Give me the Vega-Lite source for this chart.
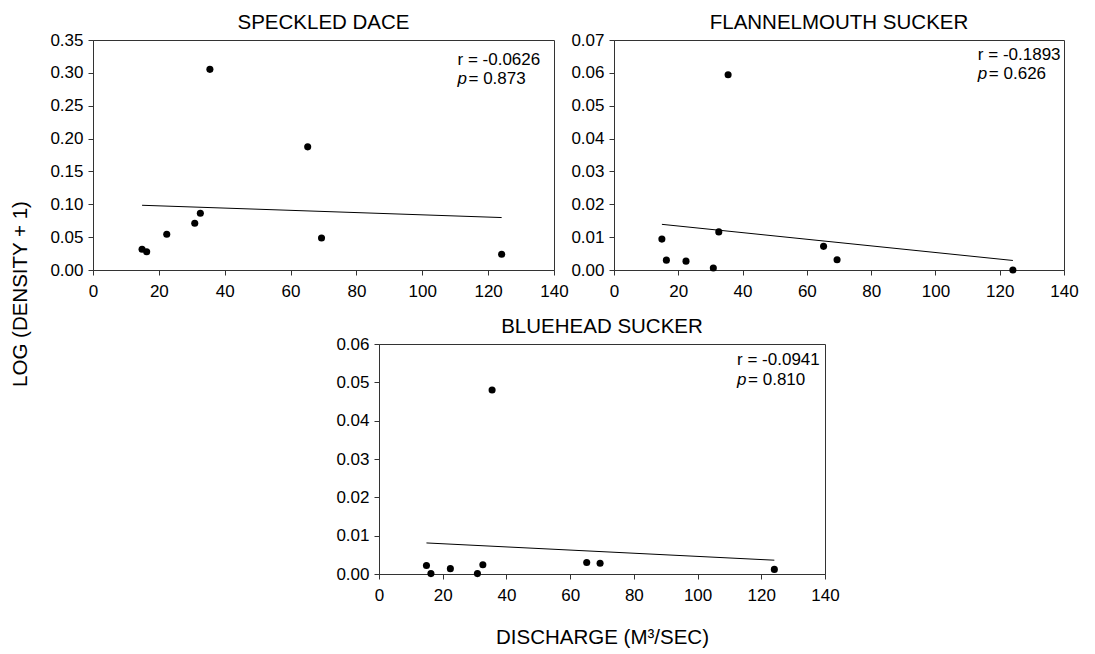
{
  "$schema": "https://vega.github.io/schema/vega-lite/v6.json",
  "padding": {"left": 10, "top": 12, "right": 5, "bottom": 5},
  "background": "white",
  "title": {"text": "LOG (DENSITY + 1)", "orient": "left", "anchor": "middle", "fontSize": 20.5, "fontWeight": "normal", "color": "#000000", "offset": 18, "dx": 36},
  "config": {
    "font": "Liberation Sans",
    "view": {"stroke": "#333333", "strokeWidth": 1},
    "axis": {
      "grid": false,
      "domainColor": "#333333",
      "tickColor": "#333333",
      "tickSize": 5,
      "labelFontSize": 17,
      "labelColor": "#000000",
      "labelPadding": 5,
      "labelOverlap": false,
      "labelFlush": false,
      "titleFontSize": 20.5,
      "titleFontWeight": "normal",
      "titleColor": "#000000"
    },
    "axisX": {"labelPadding": 8},
    "title": {"fontSize": 20.5, "fontWeight": "normal", "color": "#000000", "baseline": "alphabetic", "offset": -2},
    "text": {"font": "Liberation Sans", "fontSize": 17, "color": "#000000", "align": "left", "baseline": "middle"}
  },
  "datasets": {
    "dace": [
      {"q": 14.9, "v": 0.0315}, {"q": 16.3, "v": 0.0279}, {"q": 22.4, "v": 0.0544},
      {"q": 30.9, "v": 0.0711}, {"q": 32.6, "v": 0.0864}, {"q": 35.5, "v": 0.3053},
      {"q": 65.2, "v": 0.1874}, {"q": 69.4, "v": 0.0488}, {"q": 124.1, "v": 0.0239}
    ],
    "daceFit": [{"q": 14.9, "v": 0.0985}, {"q": 124.1, "v": 0.0798}],
    "daceR": [{"q": 110.7, "v": 0.3195, "t": "r = -0.0626"}],
    "daceP": [{"q": 110.7, "v": 0.2906, "p": "p", "t": "= 0.873"}],
    "flannel": [
      {"q": 14.9, "v": 0.0094}, {"q": 16.3, "v": 0.0030}, {"q": 22.4, "v": 0.0027},
      {"q": 30.9, "v": 0.0006}, {"q": 32.6, "v": 0.0116}, {"q": 35.5, "v": 0.0594},
      {"q": 65.2, "v": 0.0072}, {"q": 69.4, "v": 0.0031}, {"q": 124.1, "v": 0.0000}
    ],
    "flannelFit": [{"q": 14.9, "v": 0.0139}, {"q": 124.1, "v": 0.0029}],
    "flannelR": [{"q": 113.2, "v": 0.0654, "t": "r = -0.1893"}],
    "flannelP": [{"q": 113.2, "v": 0.0596, "p": "p", "t": "= 0.626"}],
    "bluehead": [
      {"q": 14.9, "v": 0.0022}, {"q": 16.3, "v": 0.0001}, {"q": 22.4, "v": 0.0014},
      {"q": 30.9, "v": 0.0001}, {"q": 32.6, "v": 0.0024}, {"q": 35.5, "v": 0.0480},
      {"q": 65.2, "v": 0.0030}, {"q": 69.4, "v": 0.0028}, {"q": 124.1, "v": 0.0012}
    ],
    "blueheadFit": [{"q": 14.9, "v": 0.0081}, {"q": 124.1, "v": 0.0036}],
    "blueheadR": [{"q": 112.4, "v": 0.0557, "t": "r = -0.0941"}],
    "blueheadP": [{"q": 112.4, "v": 0.0506, "p": "p", "t": "= 0.810"}],
    "empty": []
  },
  "spacing": 16,
  "vconcat": [
    {
      "spacing": 60,
      "bounds": "flush",
      "hconcat": [
        {
          "width": 461, "height": 230,
          "title": {"text": "SPECKLED DACE"},
          "encoding": {
            "x": {"field": "q", "type": "quantitative", "scale": {"domain": [0, 140]},
              "axis": {"values": [0, 20, 40, 60, 80, 100, 120, 140], "format": "d", "title": null}},
            "y": {"field": "v", "type": "quantitative", "scale": {"domain": [0, 0.35]},
              "axis": {"values": [0, 0.05, 0.1, 0.15, 0.2, 0.25, 0.3, 0.35], "format": ".2f", "title": null}}
          },
          "layer": [
            {"data": {"name": "daceFit"}, "mark": {"type": "line", "color": "#000000", "strokeWidth": 1}},
            {"data": {"name": "dace"}, "mark": {"type": "circle", "color": "#000000", "opacity": 1, "size": 50}},
            {"data": {"name": "daceR"}, "mark": {"type": "text"}, "encoding": {"text": {"field": "t"}}},
            {"data": {"name": "daceP"}, "mark": {"type": "text", "fontStyle": "italic"}, "encoding": {"text": {"field": "p"}}},
            {"data": {"name": "daceP"}, "mark": {"type": "text", "dx": 11}, "encoding": {"text": {"field": "t"}}}
          ]
        },
        {
          "width": 450, "height": 230,
          "title": {"text": "FLANNELMOUTH SUCKER"},
          "encoding": {
            "x": {"field": "q", "type": "quantitative", "scale": {"domain": [0, 140]},
              "axis": {"values": [0, 20, 40, 60, 80, 100, 120, 140], "format": "d", "title": null}},
            "y": {"field": "v", "type": "quantitative", "scale": {"domain": [0, 0.07]},
              "axis": {"values": [0, 0.01, 0.02, 0.03, 0.04, 0.05, 0.06, 0.07], "format": ".2f", "title": null}}
          },
          "layer": [
            {"data": {"name": "flannelFit"}, "mark": {"type": "line", "color": "#000000", "strokeWidth": 1}},
            {"data": {"name": "flannel"}, "mark": {"type": "circle", "color": "#000000", "opacity": 1, "size": 50}},
            {"data": {"name": "flannelR"}, "mark": {"type": "text"}, "encoding": {"text": {"field": "t"}}},
            {"data": {"name": "flannelP"}, "mark": {"type": "text", "fontStyle": "italic"}, "encoding": {"text": {"field": "p"}}},
            {"data": {"name": "flannelP"}, "mark": {"type": "text", "dx": 11}, "encoding": {"text": {"field": "t"}}}
          ]
        }
      ]
    },
    {
      "spacing": 24,
      "bounds": "flush",
      "hconcat": [
        {
          "width": 262, "height": 230,
          "view": {"stroke": null},
          "data": {"name": "empty"},
          "mark": {"type": "point", "opacity": 0},
          "encoding": {}
        },
        {
          "width": 446, "height": 230,
          "title": {"text": "BLUEHEAD SUCKER"},
          "encoding": {
            "x": {"field": "q", "type": "quantitative", "scale": {"domain": [0, 140]},
              "axis": {"values": [0, 20, 40, 60, 80, 100, 120, 140], "format": "d", "title": "DISCHARGE (M³/SEC)", "titlePadding": 24}},
            "y": {"field": "v", "type": "quantitative", "scale": {"domain": [0, 0.06]},
              "axis": {"values": [0, 0.01, 0.02, 0.03, 0.04, 0.05, 0.06], "format": ".2f", "title": null}}
          },
          "layer": [
            {"data": {"name": "blueheadFit"}, "mark": {"type": "line", "color": "#000000", "strokeWidth": 1}},
            {"data": {"name": "bluehead"}, "mark": {"type": "circle", "color": "#000000", "opacity": 1, "size": 50}},
            {"data": {"name": "blueheadR"}, "mark": {"type": "text"}, "encoding": {"text": {"field": "t"}}},
            {"data": {"name": "blueheadP"}, "mark": {"type": "text", "fontStyle": "italic"}, "encoding": {"text": {"field": "p"}}},
            {"data": {"name": "blueheadP"}, "mark": {"type": "text", "dx": 11}, "encoding": {"text": {"field": "t"}}}
          ]
        }
      ]
    }
  ]
}
